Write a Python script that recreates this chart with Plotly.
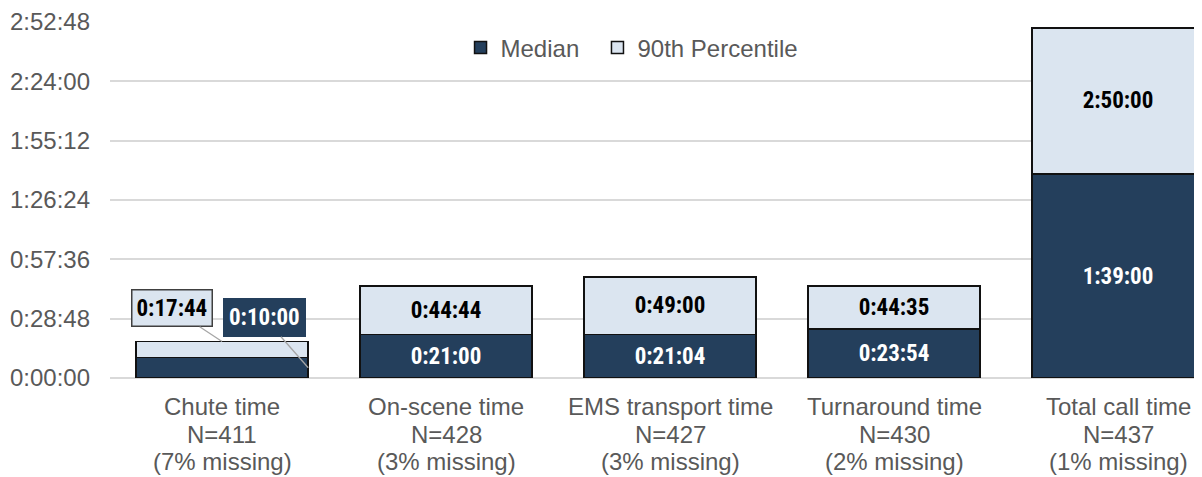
import plotly.graph_objects as go

# ---- data (seconds) ----
categories = ["Chute time", "On-scene time", "EMS transport time", "Turnaround time", "Total call time"]
n_values = ["N=411", "N=428", "N=427", "N=430", "N=437"]
missing = ["(7% missing)", "(3% missing)", "(3% missing)", "(2% missing)", "(1% missing)"]
median_sec = [600, 1260, 1264, 1434, 5940]
p90_sec = [1064, 2684, 2940, 2675, 10200]
tick_sec = [0, 1728, 3456, 5184, 6912, 8640, 10368]
tick_labels = ["0:00:00", "0:28:48", "0:57:36", "1:26:24", "1:55:12", "2:24:00", "2:52:48"]


def hms(s):
    return f"{s // 3600}:{(s % 3600) // 60:02d}:{s % 60:02d}"


DARK = "#243f5c"
LIGHT = "#dbe5f0"
GREY = "#595959"
LABEL_FONT = "Liberation Sans Narrow, Arial Narrow, Roboto Condensed, Liberation Sans, Arial, sans-serif"
AXIS_FONT = "Liberation Sans, Arial, sans-serif"
LBL_SIZE = 23

xs = list(range(len(categories)))
med_text = ["" if i == 0 else hms(v) for i, v in enumerate(median_sec)]
p90_text = ["" if i == 0 else hms(v) for i, v in enumerate(p90_sec)]
extra = [p - m for p, m in zip(p90_sec, median_sec)]

fig = go.Figure()
fig.add_trace(go.Bar(
    x=xs, y=median_sec, name="Median", width=0.77, legend="legend",
    marker=dict(color=DARK, line=dict(color="#111111", width=1.5)),
    text=med_text, textposition="inside", insidetextanchor="middle",
    textangle=0, constraintext="none",
    textfont=dict(family=LABEL_FONT, size=LBL_SIZE, color="white", weight="bold"),
))
fig.add_trace(go.Bar(
    x=xs, y=extra, name="90th Percentile", width=0.77, legend="legend2",
    marker=dict(color=LIGHT, line=dict(color="#111111", width=1.5)),
    text=p90_text, textposition="inside", insidetextanchor="middle",
    textangle=0, constraintext="none",
    textfont=dict(family=LABEL_FONT, size=LBL_SIZE, color="black", weight="bold"),
))

annotations = []
# category labels (three lines)
for i in xs:
    for txt, shift in ((categories[i], -28), (n_values[i], -56), (missing[i], -83)):
        annotations.append(dict(
            x=i, xref="x", y=0, yref="paper", yanchor="middle", xanchor="center",
            yshift=shift, text=txt, showarrow=False,
            font=dict(family=AXIS_FONT, size=24, color=GREY),
        ))

# chute time callouts
annotations.append(dict(
    x=0, y=p90_sec[0], xref="x", yref="y", text=hms(p90_sec[0]),
    showarrow=True, arrowhead=0, arrowwidth=1.3, arrowcolor="#a6a6a6",
    ax=-50, ay=-33, bgcolor=LIGHT, bordercolor="#404040", borderwidth=1.5, borderpad=4,
    font=dict(family=LABEL_FONT, size=LBL_SIZE, color="black", weight="bold"),
))
annotations.append(dict(
    x=0.385, y=median_sec[0] / 2, xref="x", yref="y", text=hms(median_sec[0]),
    showarrow=True, arrowhead=0, arrowwidth=1.3, arrowcolor="#a6a6a6",
    ax=-44, ay=-50, bgcolor=DARK, bordercolor=DARK, borderwidth=1, borderpad=5,
    font=dict(family=LABEL_FONT, size=LBL_SIZE, color="white", weight="bold"),
))

legend_common = dict(orientation="h", xanchor="left", y=0.927, yanchor="middle",
                     font=dict(family=AXIS_FONT, size=24, color=GREY),
                     bgcolor="rgba(0,0,0,0)")

fig.update_layout(
    width=1194, height=469,
    margin=dict(l=102, r=0, t=14, b=99),
    barmode="stack",
    paper_bgcolor="white", plot_bgcolor="white",
    showlegend=True,
    legend=dict(x=0.321, **legend_common),
    legend2=dict(x=0.4464, **legend_common),
    annotations=annotations,
    font=dict(family=AXIS_FONT),
)
fig.update_xaxes(range=[-0.5, 4.375], showticklabels=False, showgrid=False,
                 zeroline=False, showline=False, ticks="")
fig.update_yaxes(range=[0, 10368], tickvals=tick_sec, ticktext=tick_labels,
                 showgrid=True, gridcolor="#d9d9d9", gridwidth=1.5,
                 zeroline=True, zerolinecolor="#d9d9d9", zerolinewidth=1.5,
                 showline=False, ticks="", ticklabelstandoff=19,
                 tickfont=dict(family=AXIS_FONT, size=24, color=GREY))

fig.write_html("out.html")
